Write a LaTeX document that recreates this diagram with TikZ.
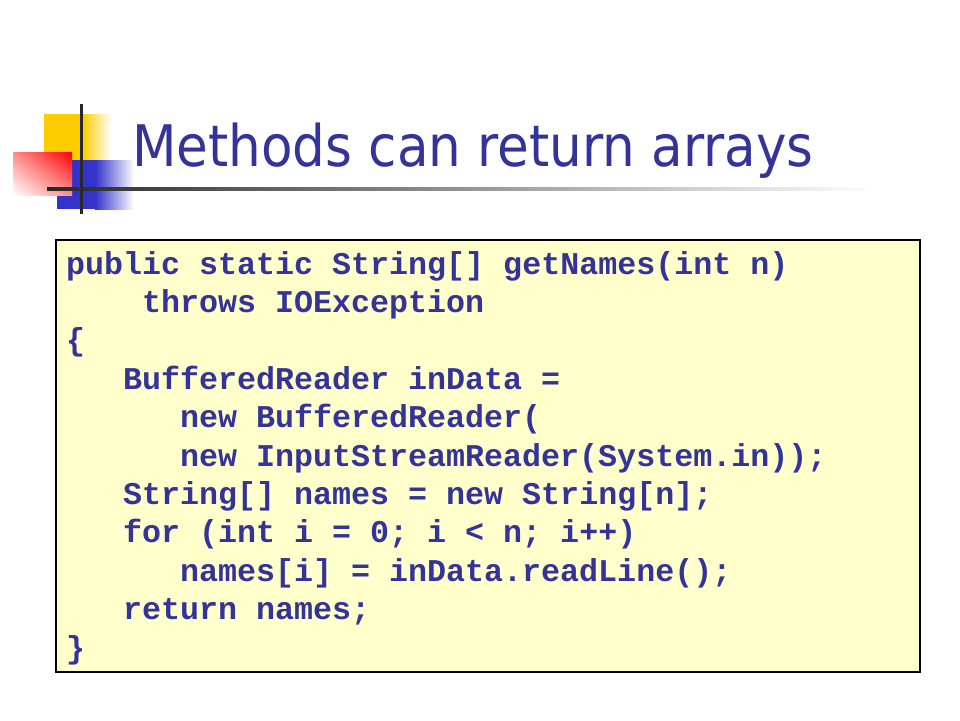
\documentclass[tikz,border=0pt]{standalone}
\usepackage{fontspec}
\usetikzlibrary{shadings}
\newfontfamily\titlefont{DejaVu Sans Condensed}
\newfontfamily\codefamily{Liberation Mono}[BoldFont={* Bold}]
\definecolor{navy}{RGB}{51,51,153}
\definecolor{codebg}{RGB}{255,255,204}
\definecolor{logoyellow}{RGB}{255,204,0}
\definecolor{logoblue}{RGB}{51,51,204}
\definecolor{logored}{RGB}{255,0,0}
\definecolor{rulegrey}{RGB}{40,40,40}
\tikzset{
  codeline/.style={anchor=base west, inner sep=0pt, text=navy,
    font=\codefamily\bfseries\fontsize{31.67pt}{38.4pt}\selectfont},
  titletext/.style={anchor=base west, inner sep=0pt, text=navy,
    font=\titlefont\fontsize{57.3pt}{60pt}\selectfont},
  codebox/.style={draw=black, line width=1.1pt, fill=codebg}
}
\newcommand{\ind}[1]{\hspace*{#1\dimexpr 19pt\relax}}
\begin{document}
\begin{tikzpicture}[x=1pt,y=-1pt]
\useasboundingbox[fill=white] (0,0) rectangle (960,720);
% logo
\fill[logoyellow] (44,114) rectangle (83,160);
\shade[left color=logoyellow, right color=white] (83,114) rectangle (111,160);
\fill[logoblue] (57,160) rectangle (95,209);
\shade[left color=logoblue, right color=white] (95,160) rectangle (134,209);
\shade[upper right=logored, upper left=logored!45!white, lower right=logored!45!white, lower left=white] (13,152) rectangle (72,195);
\shade[left color=rulegrey, right color=white] (47,187.3) rectangle (876,190.3);
\fill[rulegrey] (79.5,104) rectangle (82.5,214);
% title
\node[titletext] (title) at (132,166) {Methods can return arrays};
% code box
\draw[codebox] (56,240) rectangle (920,672);
\node[codeline] (l1) at (66,274.0) {public static String[] getNames(int n)};
\node[codeline] (l2) at (66,312.4) {\ind{4}throws IOException};
\node[codeline] (l3) at (66,350.8) {\{};
\node[codeline] (l4) at (66,389.2) {\ind{3}BufferedReader inData =};
\node[codeline] (l5) at (66,427.6) {\ind{6}new BufferedReader(};
\node[codeline] (l6) at (66,466.0) {\ind{6}new InputStreamReader(System.in));};
\node[codeline] (l7) at (66,504.4) {\ind{3}String[] names = new String[n];};
\node[codeline] (l8) at (66,542.8) {\ind{3}for (int i = 0; i < n; i++)};
\node[codeline] (l9) at (66,581.2) {\ind{6}names[i] = inData.readLine();};
\node[codeline] (l10) at (66,619.6) {\ind{3}return names;};
\node[codeline] (l11) at (66,658.0) {\}};
\end{tikzpicture}
\end{document}
